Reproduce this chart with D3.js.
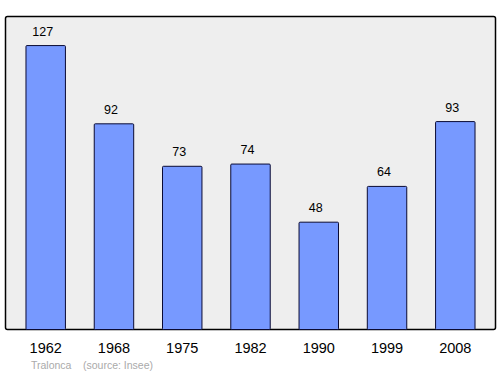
<!DOCTYPE html>
<html>
<head>
<meta charset="utf-8">
<script src="https://cdn.jsdelivr.net/npm/d3@7"></script>
<style>
  body { margin: 0; background: #fff; }
  text { font-family: "Liberation Sans", Arial, sans-serif; }
</style>
</head>
<body>
<div id="chart"></div>
<script>
// Population data
const years = ['1962', '1968', '1975', '1982', '1990', '1999', '2008'];
const population = [127, 92, 73, 74, 48, 64, 93];
const sourceLabel = 'Tralonca';
const sourceNote = '(source: Insee)';

const width = 500, height = 374;
const plot = { left: 5.5, top: 16.5, right: 495.5, bottom: 329.5 };

const svg = d3.select('#chart').append('svg')
    .attr('width', width)
    .attr('height', height);

const x = d3.scaleBand()
    .domain(years)
    .range([plot.left, plot.right])
    .paddingInner(0.422)
    .paddingOuter(0.30);

const y = d3.scaleLinear()
    .domain([0, 140])
    .range([plot.bottom, plot.top]);

// Frame with grey background
svg.append('rect')
    .attr('x', plot.left)
    .attr('y', plot.top)
    .attr('width', plot.right - plot.left)
    .attr('height', plot.bottom - plot.top)
    .attr('rx', 2)
    .attr('fill', '#eeeeee')
    .attr('stroke', '#000')
    .attr('stroke-width', 1.5);

const rows = years.map((yr, i) => ({ year: yr, value: population[i] }));

// Bars
svg.selectAll('rect.bar')
    .data(rows)
    .join('rect')
    .attr('class', 'bar')
    .attr('x', d => x(d.year))
    .attr('y', d => y(d.value))
    .attr('width', x.bandwidth())
    .attr('height', d => y(0) - y(d.value))
    .attr('rx', 1)
    .attr('fill', '#7799ff')
    .attr('stroke', '#0a0a33')
    .attr('stroke-width', 1);

// Value labels (sit a little left of the bar centre, as in the original)
svg.selectAll('text.value')
    .data(rows)
    .join('text')
    .attr('class', 'value')
    .attr('x', d => x(d.year) + x.bandwidth() / 2 - 3)
    .attr('y', d => y(d.value) - 10)
    .attr('text-anchor', 'middle')
    .attr('font-size', 12.5)
    .attr('fill', '#000')
    .text(d => d.value);

// Year axis (labels only)
const xAxis = svg.append('g')
    .attr('transform', `translate(0,${plot.bottom})`)
    .call(d3.axisBottom(x).tickSize(0).tickPadding(13));
xAxis.select('.domain').remove();
xAxis.selectAll('text')
    .attr('font-size', 14.5)
    .attr('font-family', '"Liberation Sans", Arial, sans-serif')
    .attr('fill', '#000');

// Source note
svg.append('text')
    .attr('x', 31)
    .attr('y', 368.5)
    .attr('font-size', 10.5)
    .attr('fill', '#aaaaaa')
    .text(sourceLabel);
svg.append('text')
    .attr('x', 83)
    .attr('y', 368.5)
    .attr('font-size', 10.5)
    .attr('fill', '#aaaaaa')
    .text(sourceNote);
</script>
</body>
</html>
